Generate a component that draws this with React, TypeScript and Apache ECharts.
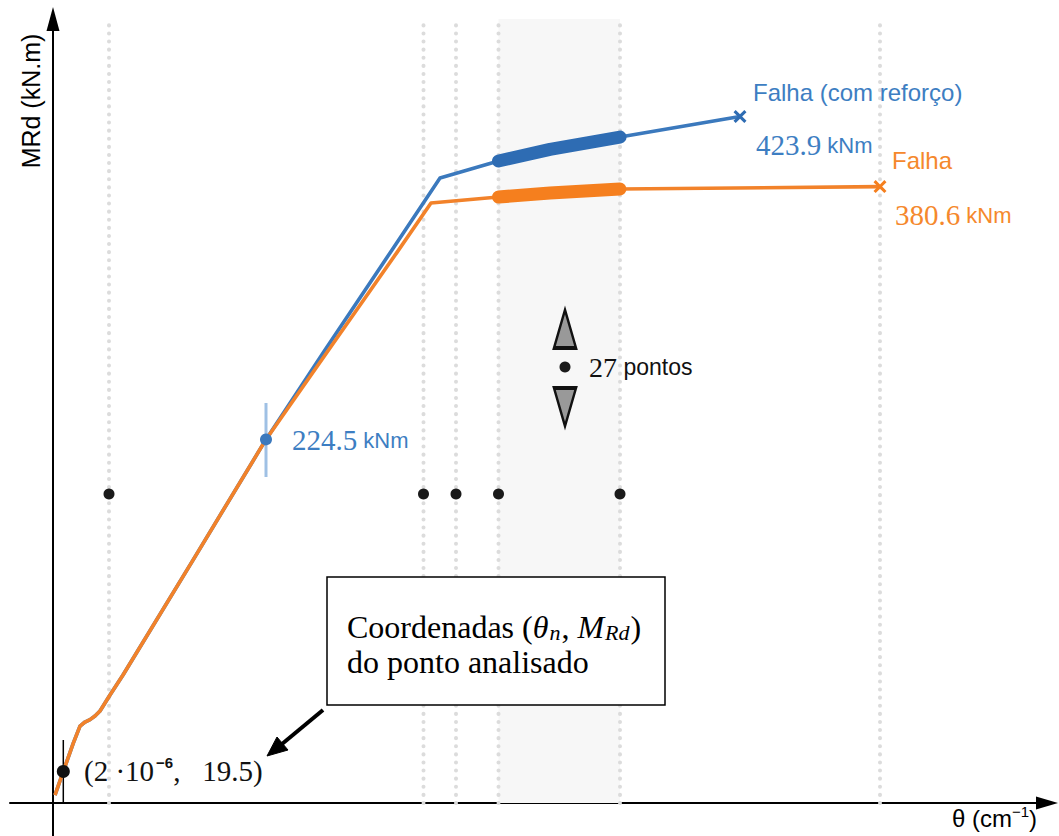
import React, { useEffect, useRef } from "react";
import * as echarts from "echarts";

// θ in units of 1e-6 cm^-1, MRd in kN.m
const thetaShared = [0.4, 2.06, 4.06, 5.4, 6.4, 7.4, 8.4, 9.4, 10.4, 11.4, 14, 28, 42.6];
const mrdShared = [4.9, 19.5, 37, 47.5, 50, 51.5, 53.7, 56.8, 61.7, 66.7, 79, 150, 224.5];
const thetaOrange = [55.4, 68.8, 75.6, 89.1, 113.4, 165.4];
const mrdOrange = [281, 340, 370.5, 374.2, 379.1, 380.6];
const thetaBlue = [54.4, 67.8, 77.4, 89.1, 113.4, 137.4];
const mrdBlue = [279.7, 341.5, 385.9, 396.4, 411.2, 423.9];
const thetaZone = [89.1, 99.4, 113.4];
const mrdZoneOrange = [374.2, 376.6, 379.1];
const mrdZoneBlue = [396.4, 403.6, 411.2];
const thetaGuides = [11.2, 74.1, 80.6, 89.1, 113.4, 165.4];
const thetaDots = [11.2, 74.1, 80.6, 89.1, 113.4];
const dotLevel = 190.8;
const analysedPoint = [2.06, 19.5];
const analysedBar = [0, 38.9];
const midPoint = [42.6, 224.5];
const midBar = [201.3, 247];
const failBlue = [137.4, 423.9];
const failOrange = [165.4, 380.6];
const pointsMark = [102.4, 269.2];
const pointsUp = 292.7;
const pointsDown = 244.5;

const X_MIN = -8.6;
const X_MAX = 198.8;
const Y_MIN = -20.38;
const Y_MAX = 484.1;

const BLUE = "#3b79bd";
const BLUE_THICK = "#2e6cb3";
const ORANGE = "#f2822a";
const ORANGE_THICK = "#f57f1e";
const BLUE_TXT = "#3d7ec2";
const ORANGE_TXT = "#f5882c";
const SERIF = '"Liberation Serif", "Times New Roman", serif';
const SANS = '"Liberation Sans", Arial, sans-serif';

const CROSS =
  "path://M2,0 L6,4 L10,0 L12,2 L8,6 L12,10 L10,12 L6,8 L2,12 L0,10 L4,6 L0,2 Z";

const zip = (a: number[], b: number[]) => a.map((v, i) => [v, b[i]]);

export default function App() {
  const ref = useRef<HTMLDivElement>(null);
  useEffect(() => {
    if (!ref.current) return;
    const chart = echarts.init(ref.current, undefined, { renderer: "svg" });

    const guideSeries = thetaGuides.map((x, i) => ({
      type: "line",
      data: [
        [x, 0],
        [x, Y_MAX],
      ],
      symbol: "none",
      silent: true,
      lineStyle: { color: "#dcdcdc", width: 4, type: [0.1, 8], cap: "round" },
      z: 1,
      ...(i === 0
        ? {
            markArea: {
              silent: true,
              itemStyle: { color: "#f7f7f7" },
              data: [
                [
                  { xAxis: thetaZone[0], yAxis: 0 },
                  { xAxis: thetaZone[thetaZone.length - 1], yAxis: Y_MAX },
                ],
              ],
            },
          }
        : {}),
    }));

    const blueData = zip(thetaShared.concat(thetaBlue), mrdShared.concat(mrdBlue));
    const orangeData = zip(thetaShared.concat(thetaOrange), mrdShared.concat(mrdOrange));

    const numRich = (color: string) => ({
      n: { fontSize: 29, fontFamily: SERIF, fill: color, lineHeight: 32 },
      u: { fontSize: 22, fontFamily: SANS, fill: color, lineHeight: 32 },
    });

    const option: any = {
      animation: false,
      backgroundColor: "#ffffff",
      grid: { left: 10, right: 12, top: 19, bottom: 0, containLabel: false },
      xAxis: {
        type: "value",
        min: X_MIN,
        max: X_MAX,
        axisLine: {
          show: true,
          onZero: true,
          symbol: ["none", "triangle"],
          symbolSize: [13, 22],
          lineStyle: { color: "#000", width: 2 },
        },
        axisTick: { show: false },
        axisLabel: { show: false },
        splitLine: { show: false },
      },
      yAxis: {
        type: "value",
        min: Y_MIN,
        max: Y_MAX,
        axisLine: {
          show: true,
          onZero: true,
          symbol: ["none", "triangle"],
          symbolSize: [13, 24],
          lineStyle: { color: "#000", width: 2 },
        },
        axisTick: { show: false },
        axisLabel: { show: false },
        splitLine: { show: false },
      },
      series: [
        ...guideSeries,
        {
          type: "line",
          data: [
            [midPoint[0], midBar[0]],
            [midPoint[0], midBar[1]],
          ],
          symbol: "none",
          lineStyle: { color: "#9fc0e4", width: 3 },
          z: 2,
        },
        {
          type: "line",
          data: [
            [analysedPoint[0], analysedBar[0]],
            [analysedPoint[0], analysedBar[1]],
          ],
          symbol: "none",
          lineStyle: { color: "#000", width: 1.5 },
          z: 2,
        },
        {
          type: "line",
          data: blueData,
          symbol: "none",
          lineStyle: { color: BLUE, width: 3.6, join: "round" },
          z: 3,
        },
        {
          type: "line",
          data: orangeData,
          symbol: "none",
          lineStyle: { color: ORANGE, width: 3.6, join: "round" },
          z: 3,
        },
        {
          type: "line",
          data: zip(thetaZone, mrdZoneBlue),
          symbol: "none",
          lineStyle: { color: BLUE_THICK, width: 13, cap: "round", join: "round" },
          z: 4,
        },
        {
          type: "line",
          data: zip(thetaZone, mrdZoneOrange),
          symbol: "none",
          lineStyle: { color: ORANGE_THICK, width: 13, cap: "round", join: "round" },
          z: 4,
        },
        {
          type: "scatter",
          data: [midPoint],
          symbol: "circle",
          symbolSize: 12,
          itemStyle: { color: BLUE, opacity: 1 },
          z: 5,
        },
        {
          type: "scatter",
          data: [analysedPoint],
          symbol: "circle",
          symbolSize: 13,
          itemStyle: { color: "#111", opacity: 1 },
          z: 5,
        },
        {
          type: "scatter",
          data: thetaDots.map((x) => [x, dotLevel]),
          symbol: "circle",
          symbolSize: 11,
          itemStyle: { color: "#1a1a1a", opacity: 1 },
          z: 5,
        },
        {
          type: "scatter",
          data: [failBlue],
          symbol: CROSS,
          symbolSize: 13,
          itemStyle: { color: BLUE_THICK, opacity: 1 },
          z: 5,
        },
        {
          type: "scatter",
          data: [failOrange],
          symbol: CROSS,
          symbolSize: 13,
          itemStyle: { color: ORANGE_THICK, opacity: 1 },
          z: 5,
        },
        {
          type: "scatter",
          data: [pointsMark],
          symbol: "circle",
          symbolSize: 11,
          itemStyle: { color: "#1a1a1a", opacity: 1 },
          z: 5,
        },
        {
          type: "scatter",
          data: [[pointsMark[0], pointsUp]],
          symbol: "triangle",
          symbolSize: [22, 38],
          itemStyle: { color: "#999", borderColor: "#111", borderWidth: 3, opacity: 1 },
          z: 5,
        },
        {
          type: "scatter",
          data: [[pointsMark[0], pointsDown]],
          symbol: "triangle",
          symbolRotate: 180,
          symbolSize: [22, 38],
          itemStyle: { color: "#999", borderColor: "#111", borderWidth: 3, opacity: 1 },
          z: 5,
        },
      ],
      graphic: [
        {
          type: "text",
          x: 31,
          y: 101,
          rotation: Math.PI / 2,
          z: 10,
          style: {
            text: "MRd (kN.m)",
            fontSize: 25,
            fontFamily: SANS,
            fill: "#000",
            align: "center",
            verticalAlign: "middle",
          },
        },
        {
          type: "text",
          x: 1037,
          y: 818,
          z: 10,
          style: {
            text: "θ (cm{sup|−1})",
            fontSize: 24,
            fontFamily: SANS,
            fill: "#000",
            align: "right",
            verticalAlign: "middle",
            lineHeight: 28,
            rich: {
              sup: { fontSize: 15, fontFamily: SANS, fill: "#000", lineHeight: 16, verticalAlign: "top" },
            },
          },
        },
        {
          type: "text",
          x: 753,
          y: 92,
          z: 10,
          style: {
            text: "Falha (com reforço)",
            fontSize: 24,
            fontFamily: SANS,
            fill: BLUE_TXT,
            align: "left",
            verticalAlign: "middle",
          },
        },
        {
          type: "text",
          x: 756,
          y: 145,
          z: 10,
          style: {
            text: "{n|423.9}{u| kNm}",
            align: "left",
            verticalAlign: "middle",
            rich: numRich(BLUE_TXT),
          },
        },
        {
          type: "text",
          x: 892,
          y: 160,
          z: 10,
          style: {
            text: "Falha",
            fontSize: 24,
            fontFamily: SANS,
            fill: ORANGE_TXT,
            align: "left",
            verticalAlign: "middle",
          },
        },
        {
          type: "text",
          x: 895,
          y: 215,
          z: 10,
          style: {
            text: "{n|380.6}{u| kNm}",
            align: "left",
            verticalAlign: "middle",
            rich: numRich(ORANGE_TXT),
          },
        },
        {
          type: "text",
          x: 292,
          y: 440,
          z: 10,
          style: {
            text: "{n|224.5}{u| kNm}",
            align: "left",
            verticalAlign: "middle",
            rich: numRich(BLUE_TXT),
          },
        },
        {
          type: "text",
          x: 589,
          y: 367,
          z: 10,
          style: {
            text: "{n|27}{u| pontos}",
            align: "left",
            verticalAlign: "middle",
            rich: {
              n: { fontSize: 28, fontFamily: SERIF, fill: "#111", lineHeight: 32 },
              u: { fontSize: 23, fontFamily: SANS, fill: "#111", lineHeight: 32 },
            },
          },
        },
        {
          type: "text",
          x: 84,
          y: 771,
          z: 10,
          style: {
            text: "{n|(2 ·10}{s|−6}{n|,   19.5)}",
            align: "left",
            verticalAlign: "middle",
            rich: {
              n: { fontSize: 29, fontFamily: SERIF, fill: "#111", lineHeight: 32 },
              s: { fontSize: 15, fontFamily: SANS, fontWeight: "bold", fill: "#111", lineHeight: 17, verticalAlign: "top", padding: [0, 0, 0, 2] },
            },
          },
        },
        {
          type: "rect",
          z: 10,
          shape: { x: 327, y: 577, width: 338, height: 128 },
          style: { fill: "#fff", stroke: "#000", lineWidth: 1.5 },
        },
        {
          type: "text",
          x: 347,
          y: 627,
          z: 11,
          style: {
            text: "{n|Coordenadas (}{i|θ}{s|n}{n|, }{i|M}{s|Rd}{n|)}",
            align: "left",
            verticalAlign: "middle",
            rich: {
              n: { fontSize: 32, fontFamily: SERIF, fill: "#000", lineHeight: 32 },
              i: { fontSize: 32, fontFamily: SERIF, fontStyle: "italic", fill: "#000", lineHeight: 32 },
              s: { fontSize: 22, fontFamily: SERIF, fontStyle: "italic", fill: "#000", lineHeight: 18, verticalAlign: "bottom", padding: [0, 1, 0, 1] },
            },
          },
        },
        {
          type: "text",
          x: 347,
          y: 662,
          z: 11,
          style: {
            text: "do ponto analisado",
            fontSize: 32,
            fontFamily: SERIF,
            fill: "#000",
            align: "left",
            verticalAlign: "middle",
            lineHeight: 30,
          },
        },
        {
          type: "line",
          z: 10,
          shape: { x1: 323, y1: 710, x2: 282, y2: 744 },
          style: { stroke: "#000", lineWidth: 4 },
        },
        {
          type: "polygon",
          z: 10,
          shape: {
            points: [
              [267, 756],
              [288, 750],
              [277, 737],
            ],
          },
          style: { fill: "#000", stroke: "#000", lineWidth: 1 },
        },
      ],
    };

    chart.setOption(option);
    return () => chart.dispose();
  }, []);

  return (
    <div
      ref={ref}
      style={{ position: "fixed", left: 0, top: 0, width: 1059, height: 836, background: "#fff" }}
    />
  );
}
